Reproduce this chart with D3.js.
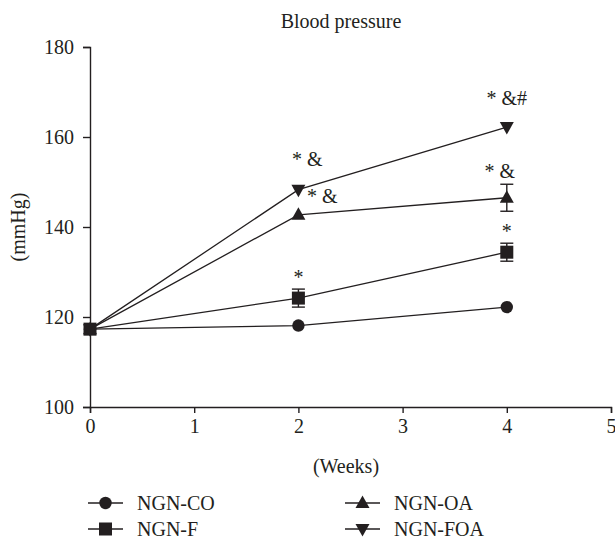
<!DOCTYPE html>
<html><head><meta charset="utf-8">
<script src="https://cdn.jsdelivr.net/npm/d3@7"></script>
<style>body{margin:0;background:#fff}svg{display:block}</style>
</head><body><svg id="c" width="615" height="541"></svg>
<script>
const weeks = [0, 2, 4];
const seriesNames = ["NGN-CO", "NGN-F", "NGN-OA", "NGN-FOA"];
const coValues = [117.3, 118.1, 122.2];
const fValues = [117.3, 124.2, 134.4];
const oaValues = [117.3, 142.7, 146.5];
const foaValues = [117.3, 148.3, 162.2];
const fErr = [0, 2.0, 2.0];
const oaErr = [0, 0, 3.0];
const coErr = [0, 0, 0];
const foaErr = [0, 0, 0];
const xTicks = [0, 1, 2, 3, 4, 5];
const yTicks = [100, 120, 140, 160, 180];
const annotations = [
  {week: 2, value: 148.3, text: "* &", dx: 9, dy: -24},
  {week: 2, value: 142.7, text: "* &", dx: 24, dy: -12},
  {week: 2, value: 124.2, text: "*", dx: 0, dy: -14},
  {week: 4, value: 162.2, text: "* &#", dx: 0, dy: -22},
  {week: 4, value: 146.5, text: "* &", dx: -7, dy: -20},
  {week: 4, value: 134.4, text: "*", dx: 0, dy: -14}
];

const FONT = '"Liberation Serif", serif';
const FS = "20px";
const svg = d3.select("#c").attr("font-family", FONT);
const ink = "#231f20";
const x = d3.scaleLinear().domain([0, 5]).range([90, 611]);
const y = d3.scaleLinear().domain([100, 180]).range([407, 47]);
function txt(sel) { return sel.style("font-family", FONT).style("font-size", FS).attr("fill", ink); }

txt(svg.append("text").attr("x", 341).attr("y", 28).attr("text-anchor", "middle")).text("Blood pressure");

const xa = svg.append("g").attr("transform", "translate(0,407)").call(d3.axisBottom(x).tickValues(xTicks).tickFormat(d3.format("d")).tickSizeOuter(0).tickSize(6).tickPadding(3));
const ya = svg.append("g").attr("transform", "translate(90,0)").call(d3.axisLeft(y).tickValues(yTicks).tickSizeOuter(0).tickSize(7).tickPadding(9));
[xa, ya].forEach(a => {
  a.attr("font-family", FONT);
  a.selectAll("path,line").attr("stroke", ink).attr("stroke-width", 1.4);
  txt(a.selectAll("text"));
});
xa.selectAll("text").attr("dy", "0.85em");
ya.selectAll("text").attr("dy", "0.33em");

txt(svg.append("text").attr("x", 346).attr("y", 473).attr("text-anchor", "middle")).text("(Weeks)");
txt(svg.append("text").attr("transform", "translate(25,227) rotate(-90)").attr("text-anchor", "middle")).text("(mmHg)");

const series = [
  {name: seriesNames[0], vals: coValues, err: coErr, shape: "circle"},
  {name: seriesNames[1], vals: fValues, err: fErr, shape: "square"},
  {name: seriesNames[2], vals: oaValues, err: oaErr, shape: "up"},
  {name: seriesNames[3], vals: foaValues, err: foaErr, shape: "down"}
];
function marker(g, shape, cx, cy) {
  if (shape === "circle") g.append("circle").attr("cx", cx).attr("cy", cy).attr("r", 6.2).attr("fill", ink);
  else if (shape === "square") g.append("rect").attr("x", cx - 6.5).attr("y", cy - 6.5).attr("width", 13).attr("height", 13).attr("fill", ink);
  else if (shape === "up") g.append("path").attr("d", `M${cx},${cy-7.5}L${cx+7},${cy+5}L${cx-7},${cy+5}Z`).attr("fill", ink);
  else g.append("path").attr("d", `M${cx},${cy+7.5}L${cx+7},${cy-5}L${cx-7},${cy-5}Z`).attr("fill", ink);
}
const line = d3.line().x((d, i) => x(weeks[i])).y(d => y(d));
series.forEach(s => {
  svg.append("path").attr("d", line(s.vals)).attr("fill", "none").attr("stroke", ink).attr("stroke-width", 1.3);
});
series.forEach(s => {
  const g = svg.append("g");
  s.vals.forEach((v, i) => {
    const e = s.err[i];
    if (e > 0) {
      const cx = x(weeks[i]);
      g.append("line").attr("x1", cx).attr("x2", cx).attr("y1", y(v - e)).attr("y2", y(v + e)).attr("stroke", ink).attr("stroke-width", 1.4);
      [v - e, v + e].forEach(t => g.append("line").attr("x1", cx - 6.5).attr("x2", cx + 6.5).attr("y1", y(t)).attr("y2", y(t)).attr("stroke", ink).attr("stroke-width", 1.4));
    }
  });
  s.vals.forEach((v, i) => marker(g, s.shape, x(weeks[i]), y(v)));
});
annotations.forEach(a => {
  txt(svg.append("text").attr("x", x(a.week) + a.dx).attr("y", y(a.value) + a.dy).attr("text-anchor", "middle")).text(a.text);
});

const legend = [
  {s: series[0], lx: 88, ly: 503},
  {s: series[1], lx: 88, ly: 529},
  {s: series[2], lx: 345, ly: 503},
  {s: series[3], lx: 345, ly: 529}
];
legend.forEach(l => {
  svg.append("line").attr("x1", l.lx).attr("x2", l.lx + 35).attr("y1", l.ly).attr("y2", l.ly).attr("stroke", ink).attr("stroke-width", 1.4);
  marker(svg, l.s.shape, l.lx + 17.5, l.ly);
  txt(svg.append("text").attr("x", l.lx + 49).attr("y", l.ly).attr("dy", "0.33em")).text(l.s.name);
});
</script></body></html>
